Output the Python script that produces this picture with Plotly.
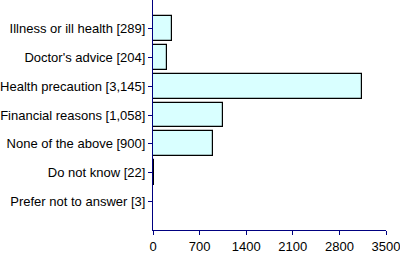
import plotly.graph_objects as go

categories = ["Illness or ill health [289]", "Doctor's advice [204]", "Health precaution [3,145]",
              "Financial reasons [1,058]", "None of the above [900]", "Do not know [22]",
              "Prefer not to answer [3]"]
values = [289, 204, 3145, 1058, 900, 22, 3]
x_ticks = [0, 700, 1400, 2100, 2800, 3500]

fig = go.Figure(go.Bar(
    x=values, y=categories, orientation="h", width=0.86,
    marker=dict(color="#D9FFFF", line=dict(color="black", width=1.2)),
))
fig.update_layout(
    width=400, height=254, margin=dict(l=153, r=14, t=0, b=22),
    plot_bgcolor="white", paper_bgcolor="white",
    font=dict(family="Liberation Sans, Arial", size=13, color="black"),
    showlegend=False, bargap=0,
)
fig.update_xaxes(range=[0, 3500], tickvals=x_ticks, showgrid=False, zeroline=False,
                 showline=True, linecolor="#000080", linewidth=1,
                 ticks="outside", ticklen=4, tickcolor="#000080",
                 ticklabeloverflow="allow")
fig.update_yaxes(type="category", categoryorder="array", categoryarray=categories,
                 range=[7, -1], showgrid=False, zeroline=False,
                 showline=True, linecolor="#000080", linewidth=1,
                 ticks="outside", ticklen=4, tickcolor="#000080")
fig.write_html("out.html")
